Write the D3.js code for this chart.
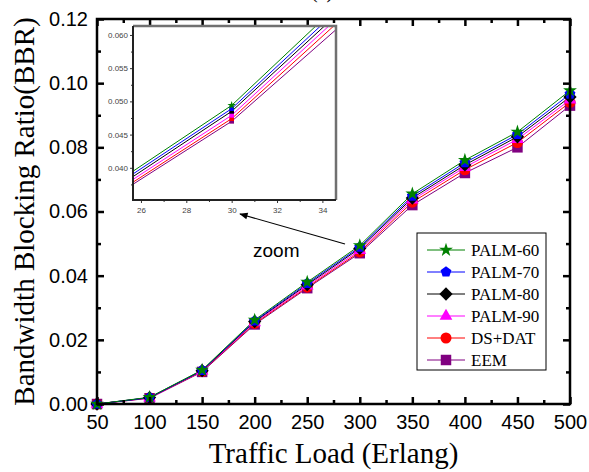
<!DOCTYPE html>
<html>
<head>
<meta charset="utf-8">
<script src="https://cdn.jsdelivr.net/npm/d3@7"></script>
<style>
  body { margin: 0; background: #fff; }
  svg { display: block; }
</style>
</head>
<body>
<div id="chart"></div>
<script>
(() => {

// data
const loads = [50, 100, 150, 200, 250, 300, 350, 400, 450, 500]
const palm60 = [0.0000, 0.0021, 0.0106, 0.0262, 0.0380, 0.0494, 0.0655, 0.0760, 0.0848, 0.0977]
const palm70 = [0.0000, 0.0020, 0.0105, 0.0259, 0.0376, 0.0489, 0.0648, 0.0752, 0.0840, 0.0966]
const palm80 = [0.0000, 0.0020, 0.0104, 0.0257, 0.0372, 0.0485, 0.0642, 0.0745, 0.0833, 0.0957]
const palm90 = [0.0000, 0.0019, 0.0103, 0.0254, 0.0368, 0.0479, 0.0636, 0.0738, 0.0825, 0.0948]
const dsdat  = [0.0000, 0.0019, 0.0102, 0.0251, 0.0364, 0.0474, 0.0629, 0.0730, 0.0815, 0.0940]
const eem    = [0.0000, 0.0018, 0.0100, 0.0248, 0.0361, 0.0470, 0.0620, 0.0720, 0.0800, 0.0930]
const names  = ["PALM-60", "PALM-70", "PALM-80", "PALM-90", "DS+DAT", "EEM"]
const colors = ["#008000", "#0000ff", "#000000", "#ff00ff", "#ff0000", "#800080"]
const yTicks = [0, 0.02, 0.04, 0.06, 0.08, 0.10, 0.12]
const insetXTicks = [26, 28, 30, 32, 34]
const insetYTicks = [0.040, 0.045, 0.050, 0.055, 0.060]

function polygon(n, rot, k) {
    return {
        draw(ctx, size) {
            let r = Math.sqrt(size) * k
            for (let i = 0; i < n; i++) {
                let a = rot + i * 2 * Math.PI / n
                if (i == 0) ctx.moveTo(r * Math.cos(a), r * Math.sin(a))
                else ctx.lineTo(r * Math.cos(a), r * Math.sin(a))
            }
            ctx.closePath()
        }
    }
}
const pentagon = polygon(5, -Math.PI / 2, 0.62)
const diamond = polygon(4, -Math.PI / 2, 0.72)
const shapes = [d3.symbolStar, pentagon, diamond, d3.symbolTriangle, d3.symbolCircle, d3.symbolSquare]
const sizes = [60, 85, 85, 70, 95, 110]

const series = [palm60, palm70, palm80, palm90, dsdat, eem].map((v, i) => ({
    name: names[i], color: colors[i], shape: shapes[i], size: sizes[i],
    values: v.map((y, j) => ({ x: loads[j], y: y }))
}))

const W = 589, H = 472
const m = { left: 97, right: 19, top: 19, bottom: 68 }
const iw = W - m.left - m.right, ih = H - m.top - m.bottom

const svg = d3.select("#chart").append("svg")
    .attr('width', W).attr('height', H)

const x = d3.scaleLinear().domain([50, 500]).range([m.left, m.left + iw])
const y = d3.scaleLinear().domain([0, 0.12]).range([m.top + ih, m.top])

const sans = "'Liberation Sans', Arial, sans-serif"
const serif = "'Liberation Serif', 'Times New Roman', serif"

// title (cut off at top, as in the figure)
svg.append("text").attr('x', 322).attr('y', -2)
   .attr('text-anchor', 'middle').attr('font-family', serif).attr('font-size', 20)
   .text("(a)")

// lines + markers
let line = d3.line().x(d => x(d.x)).y(d => y(d.y))
let plot = svg.append("g")
series.slice().reverse().forEach(s => {
    plot.append("path").datum(s.values)
        .attr('fill', 'none').attr('stroke', s.color).attr('stroke-width', 1)
        .attr('d', line)
})
series.slice().reverse().forEach(s => {
    plot.selectAll(null).data(s.values).enter()
        .append("path")
        .attr('transform', d => "translate(" + x(d.x) + "," + y(d.y) + ")")
        .attr('d', d3.symbol().type(s.shape).size(s.size))
        .attr('fill', s.color)
})

// axes, ticks inward
function styleAxis(g, fs) {
    g.select(".domain").remove()
    g.selectAll(".tick line").attr('stroke', '#000').attr('stroke-width', 2.5)
    g.selectAll("text").attr('font-family', sans).attr('font-size', fs).attr('fill', '#000')
}
let xMinor = d3.range(75, 500, 50)
let yMinor = d3.range(0.01, 0.12, 0.02)

let gx = svg.append("g").attr('transform', "translate(0," + (m.top + ih) + ")")
    .call(d3.axisBottom(x).tickValues(loads).tickSizeInner(-7).tickSizeOuter(0).tickPadding(11).tickFormat(d3.format("d")))
styleAxis(gx, 20)
svg.append("g").attr('transform', "translate(0," + (m.top + ih) + ")")
    .call(d3.axisBottom(x).tickValues(xMinor).tickSize(-4).tickFormat(""))
    .call(g => styleAxis(g, 0))
svg.append("g").attr('transform', "translate(0," + m.top + ")")
    .call(d3.axisTop(x).tickValues(loads).tickSize(-7).tickFormat(""))
    .call(g => styleAxis(g, 0))
svg.append("g").attr('transform', "translate(0," + m.top + ")")
    .call(d3.axisTop(x).tickValues(xMinor).tickSize(-4).tickFormat(""))
    .call(g => styleAxis(g, 0))

let gy = svg.append("g").attr('transform', "translate(" + m.left + ",0)")
    .call(d3.axisLeft(y).tickValues(yTicks).tickSizeInner(-7).tickSizeOuter(0).tickPadding(9).tickFormat(d3.format(".2f")))
styleAxis(gy, 20)
svg.append("g").attr('transform', "translate(" + m.left + ",0)")
    .call(d3.axisLeft(y).tickValues(yMinor).tickSize(-4).tickFormat(""))
    .call(g => styleAxis(g, 0))
svg.append("g").attr('transform', "translate(" + (m.left + iw) + ",0)")
    .call(d3.axisRight(y).tickValues(yTicks).tickSize(-7).tickFormat(""))
    .call(g => styleAxis(g, 0))
svg.append("g").attr('transform', "translate(" + (m.left + iw) + ",0)")
    .call(d3.axisRight(y).tickValues(yMinor).tickSize(-4).tickFormat(""))
    .call(g => styleAxis(g, 0))

svg.append("rect").attr('x', m.left).attr('y', m.top).attr('width', iw).attr('height', ih)
   .attr('fill', 'none').attr('stroke', '#000').attr('stroke-width', 2.5)

// axis titles
svg.append("text").attr('x', m.left + iw / 2).attr('y', 463)
   .attr('text-anchor', 'middle').attr('font-family', serif).attr('font-size', 29)
   .text("Traffic Load (Erlang)")
svg.append("text").attr('transform', "translate(34," + (m.top + ih / 2) + ") rotate(-90)")
   .attr('text-anchor', 'middle').attr('font-family', serif).attr('font-size', 29)
   .text("Bandwidth Blocking Ratio(BBR)")

// legend
let lg = svg.append("g").attr('transform', "translate(417,233)")
lg.append("rect").attr('width', 129).attr('height', 137)
  .attr('fill', '#fff').attr('stroke', '#000').attr('stroke-width', 1)
let items = lg.selectAll(".item").data(series).enter().append("g")
    .attr('class', 'item')
    .attr('transform', (d, i) => "translate(0," + (17 + i * 22) + ")")
items.append("line").attr('x1', 10).attr('x2', 48)
    .attr('stroke', d => d.color).attr('stroke-width', 1)
items.append("path").attr('transform', "translate(29,0)")
    .attr('d', d => d3.symbol().type(d.shape).size(d.size)())
    .attr('fill', d => d.color)
items.append("text").attr('x', 54).attr('dy', '0.35em')
    .attr('font-family', serif).attr('font-size', 17)
    .text(d => d.name)

// zoom inset
const ins = { x: 133, y: 26, w: 203, h: 174 }
const ix = d3.scaleLinear().domain([25.65, 34.6]).range([ins.x, ins.x + ins.w])
const iy = d3.scaleLinear().domain([0.03515, 0.06135]).range([ins.y + ins.h, ins.y])

svg.append("rect").attr('x', ins.x).attr('y', ins.y).attr('width', ins.w).attr('height', ins.h)
   .attr('fill', '#fff')
svg.append("clipPath").attr('id', 'insclip').append("rect")
   .attr('x', ins.x).attr('y', ins.y).attr('width', ins.w).attr('height', ins.h)

let ip = svg.append("g").attr('clip-path', 'url(#insclip)')
let iline = d3.line().x(d => ix(d.x / 10)).y(d => iy(d.y))
series.slice().reverse().forEach(s => {
    ip.append("path").datum(s.values)
      .attr('fill', 'none').attr('stroke', s.color).attr('stroke-width', 1)
      .attr('d', iline)
    ip.selectAll(null).data(s.values.filter(d => d.x == 300)).enter()
      .append("path")
      .attr('transform', d => "translate(" + ix(d.x / 10) + "," + iy(d.y) + ")")
      .attr('d', d3.symbol().type(s.shape == d3.symbolStar ? d3.symbolStar : d3.symbolSquare).size(22))
      .attr('fill', s.color)
})

function styleInset(g) {
    g.select(".domain").remove()
    g.selectAll(".tick line").attr('stroke', '#333').attr('stroke-width', 1)
    g.selectAll("text").attr('font-family', sans).attr('font-size', 8).attr('fill', '#444')
}
svg.append("g").attr('transform', "translate(0," + (ins.y + ins.h) + ")")
   .call(d3.axisBottom(ix).tickValues(insetXTicks).tickSize(3).tickPadding(4).tickFormat(d3.format("d")))
   .call(styleInset)
svg.append("g").attr('transform', "translate(0," + (ins.y + ins.h) + ")")
   .call(d3.axisBottom(ix).tickValues(d3.range(27, 35, 2)).tickSize(2).tickFormat(""))
   .call(styleInset)
svg.append("g").attr('transform', "translate(" + ins.x + ",0)")
   .call(d3.axisLeft(iy).tickValues(insetYTicks).tickSize(3).tickPadding(2).tickFormat(d3.format(".3f")))
   .call(styleInset)
svg.append("g").attr('transform', "translate(" + ins.x + ",0)")
   .call(d3.axisLeft(iy).tickValues([0.0375, 0.0425, 0.0475, 0.0525, 0.0575]).tickSize(2).tickFormat(""))
   .call(styleInset)

// inset frame: grey top/right, dark left/bottom
svg.append("path")
   .attr('d', "M" + ins.x + "," + ins.y + "H" + (ins.x + ins.w) + "V" + (ins.y + ins.h))
   .attr('fill', 'none').attr('stroke', '#707070').attr('stroke-width', 2.5)
svg.append("path")
   .attr('d', "M" + ins.x + "," + ins.y + "V" + (ins.y + ins.h) + "H" + (ins.x + ins.w))
   .attr('fill', 'none').attr('stroke', '#222').attr('stroke-width', 2)

// "zoom" label with arrow
svg.append("defs").append("marker").attr('id', 'arr')
   .attr('viewBox', '0 0 10 10').attr('refX', 9).attr('refY', 5)
   .attr('markerWidth', 9).attr('markerHeight', 7).attr('orient', 'auto')
   .append("path").attr('d', "M0,1 L10,5 L0,9 z").attr('fill', '#000')
svg.append("line").attr('x1', 345).attr('y1', 244).attr('x2', 240).attr('y2', 214)
   .attr('stroke', '#000').attr('stroke-width', 1.2).attr('marker-end', 'url(#arr)')
svg.append("text").attr('x', 253).attr('y', 257)
   .attr('font-family', sans).attr('font-size', 19).text("zoom")

})();
</script>
</body>
</html>
